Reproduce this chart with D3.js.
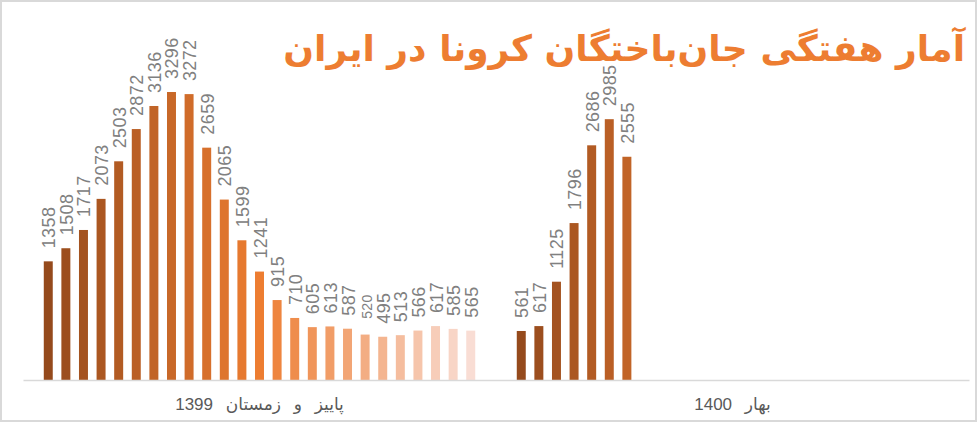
<!DOCTYPE html>
<html>
<head>
<meta charset="utf-8">
<script src="https://cdn.jsdelivr.net/npm/d3@7"></script>
<style>
  body { margin: 0; background: #fff; }
  svg { display: block; }
</style>
</head>
<body>
<div id="chart"></div>
<script>
///// Data

let chartTitle = "آمار هفتگی جان\u200cباختگان کرونا در ایران";
let categories = ["پاییز و زمستان 1399", "بهار 1400"];
// weekly deaths, one value per week (series)
let autumnWinter1399 = [1358, 1508, 1717, 2073, 2503, 2872, 3136, 3296, 3272, 2659, 2065, 1599, 1241,
    915, 710, 605, 613, 587, 520, 495, 513, 566, 617, 585, 565];
let spring1400 = [561, 617, 1125, 1796, 2686, 2985, 2555];
let weekCount = 25;

///// Layout

let width = 977,
    height = 422,
    plot = { left: 23, right: 969, top: 30.5, bottom: 380 };

let svg = d3.select("#chart")
    .append("svg")
    .attr("width", width)
    .attr("height", height);

// chart border
svg.append("rect")
    .attr("x", 1).attr("y", 1)
    .attr("width", width - 2).attr("height", height - 2)
    .attr("fill", "#fff")
    .attr("stroke", "#d9d9d9")
    .attr("stroke-width", 2);

let weeks = d3.range(weekCount);
let rows = [autumnWinter1399, spring1400];

// scales
let x0 = d3.scaleBand().domain(categories).range([plot.left, plot.right]);
let x1 = d3.scaleBand().domain(weeks).range([0, x0.bandwidth()])
    .paddingInner(0.49).paddingOuter(1.18);
let y = d3.scaleLinear().domain([0, 4000]).range([plot.bottom, plot.top]);

// shades of orange, dark -> orange -> pale
let color = function(i) {
    return i <= 12
        ? d3.interpolateRgb("#954a1c", "#ed7d31")(i / 12)
        : d3.interpolateRgb("#ed7d31", "#f9ddd4")((i - 12) / 12);
};

let flat = [];
rows.forEach(function(r, c) {
    r.forEach(function(v, i) { flat.push({ cat: categories[c], week: i, value: v }); });
});

// bars
svg.append("g")
    .selectAll("rect")
    .data(flat)
    .join("rect")
    .attr("x", d => x0(d.cat) + x1(d.week))
    .attr("y", d => y(d.value))
    .attr("width", x1.bandwidth())
    .attr("height", d => y(0) - y(d.value))
    .attr("fill", d => color(d.week));

// x axis line
svg.append("g")
    .attr("transform", "translate(0," + plot.bottom + ")")
    .call(d3.axisBottom(x0).tickSize(0).tickFormat(""))
    .call(g => g.select(".domain").attr("stroke", "#d9d9d9").attr("stroke-width", 1.5));

// category labels
svg.append("g")
    .selectAll("text")
    .data(categories)
    .join("text")
    .attr("x", d => x0(d) + x0.bandwidth() / 2)
    .attr("y", 410)
    .attr("text-anchor", "middle")
    .attr("direction", "rtl")
    .style("font-family", "'Liberation Sans', 'DejaVu Sans', sans-serif")
    .style("font-size", "17px")
    .style("letter-spacing", "2.5px")
    .style("word-spacing", "8px")
    .style("fill", "#595959")
    .text(d => d);

// value labels (rotated). a few are drawn smaller, centred on the normal slot
let smallLabels = [autumnWinter1399.indexOf(520)];
let labelGap = 13,
    digitW = 10;
let isSmall = d => d.cat === categories[0] && smallLabels.includes(d.week);

svg.append("g")
    .selectAll("text")
    .data(flat)
    .join("text")
    .attr("transform", function(d) {
        let cx = x0(d.cat) + x1(d.week) + x1.bandwidth() / 2 + 7;
        let yy = isSmall(d)
            ? y(d.value) - labelGap - String(d.value).length * digitW / 2
            : y(d.value) - labelGap;
        return "translate(" + cx + "," + yy + ") rotate(-90)";
    })
    .attr("text-anchor", d => isSmall(d) ? "middle" : "start")
    .style("font-family", "'Liberation Sans', Arial, sans-serif")
    .style("font-size", d => isSmall(d) ? "14px" : "18px")
    .style("letter-spacing", "0.4px")
    .style("fill", "#808080")
    .text(d => d.value);

// title, fitted to its width in the picture
let title = svg.append("text")
    .attr("x", 965)
    .attr("y", 61)
    .attr("text-anchor", "end")
    .style("font-family", "'DejaVu Sans', sans-serif")
    .style("font-weight", "bold")
    .style("font-size", "36px")
    .style("fill", "#ed7d31")
    .text(chartTitle);

let tw = title.node().getComputedTextLength();
if (tw > 0) title.style("font-size", Math.min(40, 36 * 682 / tw) + "px");
</script>
</body>
</html>
